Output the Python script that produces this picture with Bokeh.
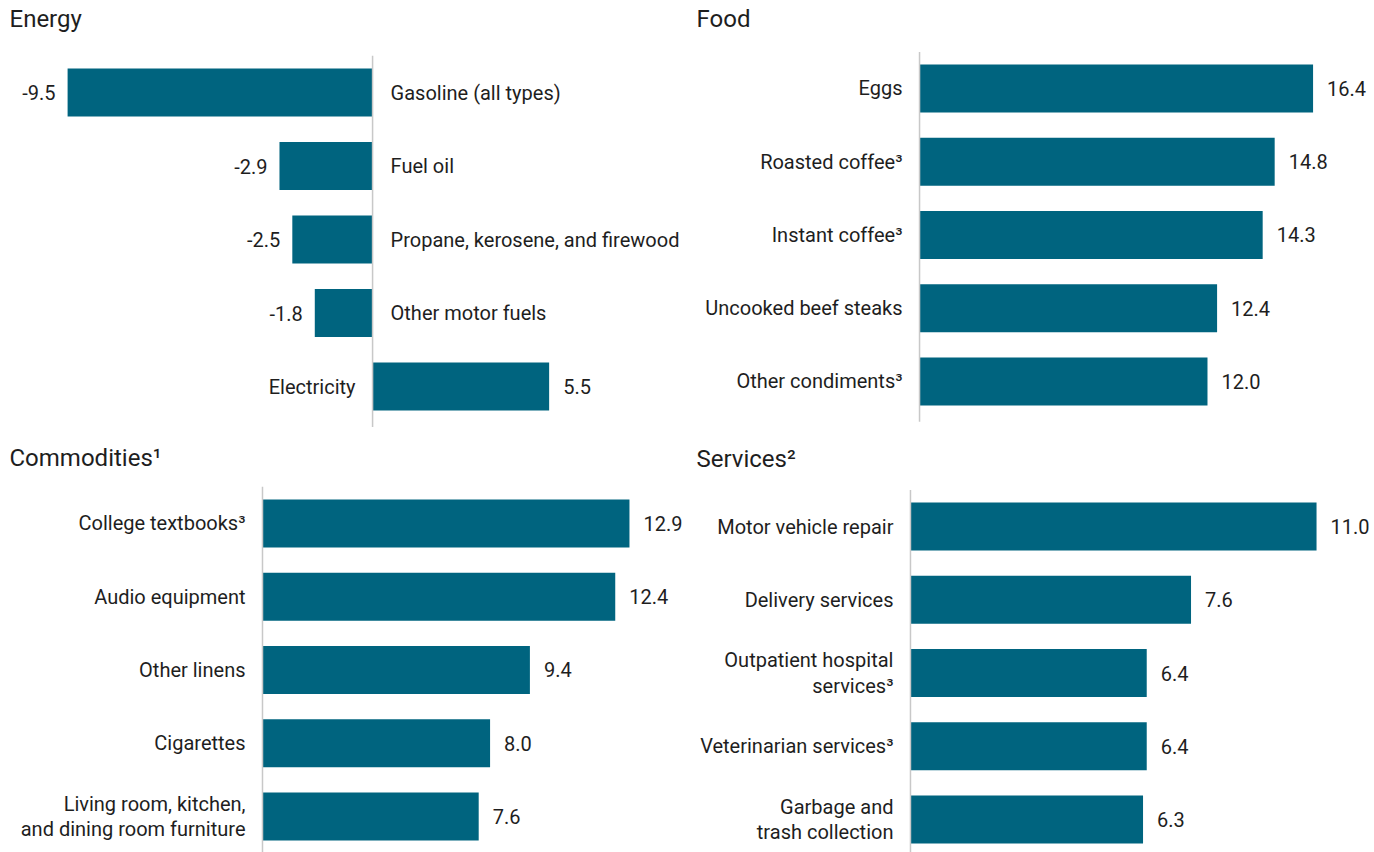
from bokeh.plotting import figure
from bokeh.models import ColumnDataSource, Range1d, Label
from bokeh.layouts import column, row
from bokeh.embed import file_html
from bokeh.resources import INLINE
from bokeh.core.properties import value

# ---- data ----
energy_items = ["Gasoline (all types)", "Fuel oil", "Propane, kerosene, and firewood",
                "Other motor fuels", "Electricity"]
energy_vals = [-9.5, -2.9, -2.5, -1.8, 5.5]

food_items = ["Eggs", "Roasted coffee³", "Instant coffee³", "Uncooked beef steaks",
              "Other condiments³"]
food_vals = [16.4, 14.8, 14.3, 12.4, 12.0]

commod_items = ["College textbooks³", "Audio equipment", "Other linens", "Cigarettes",
                "Living room, kitchen,\nand dining room furniture"]
commod_vals = [12.9, 12.4, 9.4, 8.0, 7.6]

serv_items = ["Motor vehicle repair", "Delivery services", "Outpatient hospital\nservices³",
              "Veterinarian services³", "Garbage and\ntrash collection"]
serv_vals = [11.0, 7.6, 6.4, 6.4, 6.3]

BAR = "#00647f"
TXT = "#1e1e1e"
FONT = "Roboto"
FS = "20px"


def panel(title, items, vals, xr, yr, width, height, title_from_top):
    # y_range runs top -> bottom (first item at the top)
    p = figure(width=width, height=height, x_range=Range1d(*xr), y_range=Range1d(yr[1], yr[0]),
               x_axis_type=None, y_axis_type=None, output_backend="svg",
               toolbar_location=None, title=None,
               min_border_left=0, min_border_right=0, min_border_top=0, min_border_bottom=0)
    p.outline_line_color = None
    p.grid.visible = False

    n = len(items)
    pos = list(range(n))
    src = ColumnDataSource(dict(item=items, val=vals, pos=pos,
                                lab=[f"{v:.1f}" for v in vals]))
    p.hbar(y="pos", right="val", left=0, height=0.655, source=src,
           fill_color=BAR, line_color=None)
    p.segment(x0=0, x1=0, y0=-0.5, y1=n - 0.45, line_color="#c8c8c8", line_width=1.5)

    neg = [i for i, v in enumerate(vals) if v < 0]
    posi = [i for i, v in enumerate(vals) if v >= 0]
    for idx, sign in ((neg, -1), (posi, 1)):
        if not idx:
            continue
        s = ColumnDataSource(dict(item=[items[i] for i in idx], val=[vals[i] for i in idx],
                                  pos=[pos[i] for i in idx],
                                  lab=[f"{vals[i]:.1f}" for i in idx]))
        p.text(x=0, y="pos", text="item", source=s,
               x_offset=18 if sign < 0 else -17,
               text_align="left" if sign < 0 else "right",
               text_baseline="middle", text_font=value(FONT), text_font_size=FS,
               text_color=TXT, text_line_height=1.07)
        p.text(x="val", y="pos", text="lab", source=s,
               x_offset=-12 if sign < 0 else 14,
               text_align="right" if sign < 0 else "left",
               text_baseline="middle", text_font=value(FONT), text_font_size=FS,
               text_color=TXT)

    p.add_layout(Label(x=9, y=height - title_from_top, x_units="screen", y_units="screen",
                       text=title, text_font=FONT, text_font_size="24px",
                       text_color=TXT, text_baseline="middle", text_align="left"))
    return p


p1 = panel("Energy", energy_items, energy_vals, (-11.59, 9.81), (-1.2517, 4.680), 687, 436, 18)
p2 = panel("Food", food_items, food_vals, (-9.67, 18.96), (-1.2014, 4.751), 687, 436, 18)
p3 = panel("Commodities¹", commod_items, commod_vals, (-9.21, 14.94), (-1.1877, 4.4915), 687, 416, 21)
p4 = panel("Services²", serv_items, serv_vals, (-6.04, 12.57), (-1.2287, 4.4505), 687, 416, 22)

layout = column(row(p1, p2), row(p3, p4))
open("out.html", "w").write(file_html(layout, INLINE))
